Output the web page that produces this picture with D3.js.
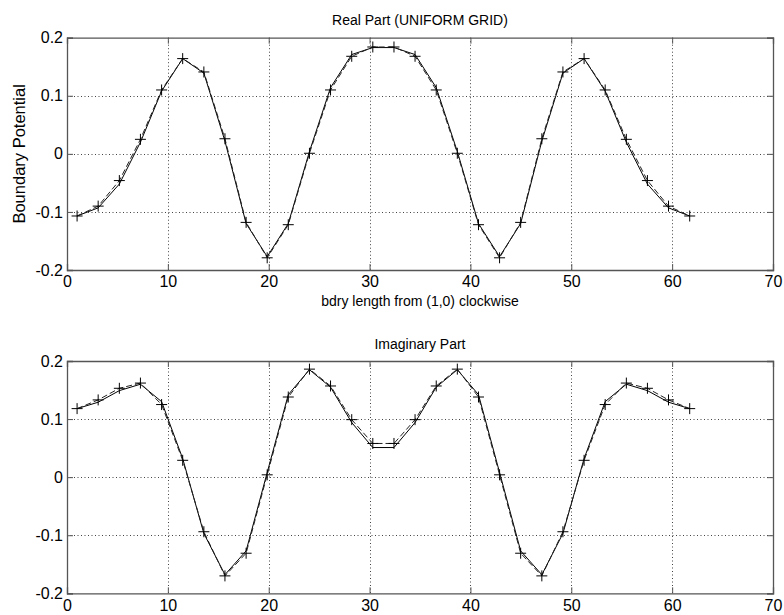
<!DOCTYPE html>
<html><head><meta charset="utf-8">
<script src="https://cdn.jsdelivr.net/npm/d3@7"></script>
<style>body{margin:0;background:#fff;} text{font-family:"Liberation Sans",Arial,sans-serif;fill:#000;}</style>
</head><body>
<svg id="c" width="784" height="615"></svg>
<script>
const xs = [1.00,3.09,5.19,7.28,9.38,11.47,13.57,15.66,17.76,19.85,21.94,24.04,26.13,28.23,30.32,32.42,34.51,36.61,38.70,40.80,42.89,44.98,47.08,49.17,51.27,53.36,55.46,57.55,59.64,61.74];
const realMarked = [-0.107,-0.090,-0.046,0.025,0.110,0.164,0.141,0.026,-0.118,-0.179,-0.122,0.001,0.110,0.168,0.184,0.184,0.168,0.110,0.001,-0.122,-0.179,-0.118,0.026,0.141,0.164,0.110,0.025,-0.046,-0.090,-0.107];
const realSolid = [-0.107,-0.093,-0.052,0.020,0.108,0.164,0.139,0.022,-0.120,-0.177,-0.120,0.004,0.114,0.171,0.183,0.183,0.171,0.114,0.004,-0.120,-0.177,-0.120,0.022,0.139,0.164,0.108,0.020,-0.052,-0.093,-0.107];
const imagMarked = [0.118,0.133,0.153,0.162,0.125,0.029,-0.094,-0.170,-0.131,0.004,0.138,0.186,0.157,0.099,0.058,0.058,0.099,0.157,0.186,0.138,0.004,-0.131,-0.170,-0.094,0.029,0.125,0.162,0.153,0.133,0.118];
const imagSolid = [0.118,0.129,0.149,0.160,0.130,0.032,-0.097,-0.168,-0.127,0.008,0.142,0.185,0.155,0.094,0.051,0.051,0.094,0.155,0.185,0.142,0.008,-0.127,-0.168,-0.097,0.032,0.130,0.160,0.149,0.129,0.118];
const xTicks = [0,10,20,30,40,50,60,70];
const yTicks = [0.2,0.1,0,-0.1,-0.2];
const yTickLabels = ["0.2","0.1","0","-0.1","-0.2"];

const svg = d3.select("#c");
const L = 67, R = 773;

function panel(top, bottom, title, titleGap, marked, solid, xlabel, ylabel) {
  const x = d3.scaleLinear().domain([0,70]).range([L,R]);
  const y = d3.scaleLinear().domain([-0.2,0.2]).range([bottom,top]);
  const g = svg.append("g");
  g.selectAll(".gx").data(xTicks.slice(1,-1)).enter().append("line")
    .attr("x1",d=>Math.round(x(d))+0.5).attr("x2",d=>Math.round(x(d))+0.5).attr("y1",top).attr("y2",bottom)
    .attr("stroke","#444").attr("stroke-width",1).attr("stroke-dasharray","1,2.5");
  g.selectAll(".gy").data(yTicks.slice(1,-1)).enter().append("line")
    .attr("y1",d=>Math.round(y(d))+0.5).attr("y2",d=>Math.round(y(d))+0.5).attr("x1",L).attr("x2",R)
    .attr("stroke","#444").attr("stroke-width",1).attr("stroke-dasharray","1,2.5");
  const ax = d3.axisBottom(x).tickValues(xTicks).tickSize(-6).tickPadding(6).tickFormat(d3.format("d"));
  const gxA = g.append("g").attr("transform",`translate(0,${bottom})`).call(ax);
  const axT = d3.axisTop(x).tickValues(xTicks).tickSize(-6).tickFormat("");
  const gxT = g.append("g").attr("transform",`translate(0,${top})`).call(axT);
  const ay = d3.axisLeft(y).tickValues(yTicks).tickSize(-6).tickPadding(4).tickFormat((d,i)=>yTickLabels[i]);
  const gyA = g.append("g").attr("transform",`translate(${L},0)`).call(ay);
  const ayR = d3.axisRight(y).tickValues(yTicks).tickSize(-6).tickFormat("");
  const gyR = g.append("g").attr("transform",`translate(${R},0)`).call(ayR);
  [gxA,gxT,gyA,gyR].forEach(a=>{
    a.select(".domain").attr("stroke","#555").attr("stroke-width",1.3);
    a.selectAll(".tick line").attr("stroke","#555");
    a.selectAll("text").style("font-size","16px").attr("fill","#000");
  });
  const lineGen = d3.line().x(d=>x(d[0])).y(d=>y(d[1]));
  g.append("path").datum(xs.map((v,i)=>[v,solid[i]])).attr("d",lineGen)
    .attr("fill","none").attr("stroke","#000").attr("stroke-width",1);
  g.append("path").datum(xs.map((v,i)=>[v,marked[i]])).attr("d",lineGen)
    .attr("fill","none").attr("stroke","#222").attr("stroke-width",1).attr("stroke-dasharray","6,3");
  const m = 5.5;
  g.selectAll(".mk").data(xs.map((v,i)=>[v,marked[i]])).enter().append("path")
    .attr("d",d=>`M${x(d[0])-m},${y(d[1])}H${x(d[0])+m}M${x(d[0])},${y(d[1])-m}V${y(d[1])+m}`)
    .attr("stroke","#000").attr("stroke-width",1).attr("fill","none");
  svg.append("text").attr("x",(L+R)/2).attr("y",top-titleGap).attr("text-anchor","middle")
    .style("font-size","14px").text(title);
  if (xlabel) svg.append("text").attr("x",(L+R)/2).attr("y",bottom+36).attr("text-anchor","middle")
    .style("font-size","14px").text(xlabel);
  if (ylabel) svg.append("text").attr("transform",`translate(25,${(top+bottom)/2}) rotate(-90)`)
    .attr("text-anchor","middle").style("font-size","16.5px").text(ylabel);
}
panel(37.7, 270, "Real Part (UNIFORM GRID)", 13, realMarked, realSolid, "bdry length from (1,0) clockwise", "Boundary Potential");
panel(361, 593.3, "Imaginary Part", 12, imagMarked, imagSolid, null, null);
</script>
</body></html>
